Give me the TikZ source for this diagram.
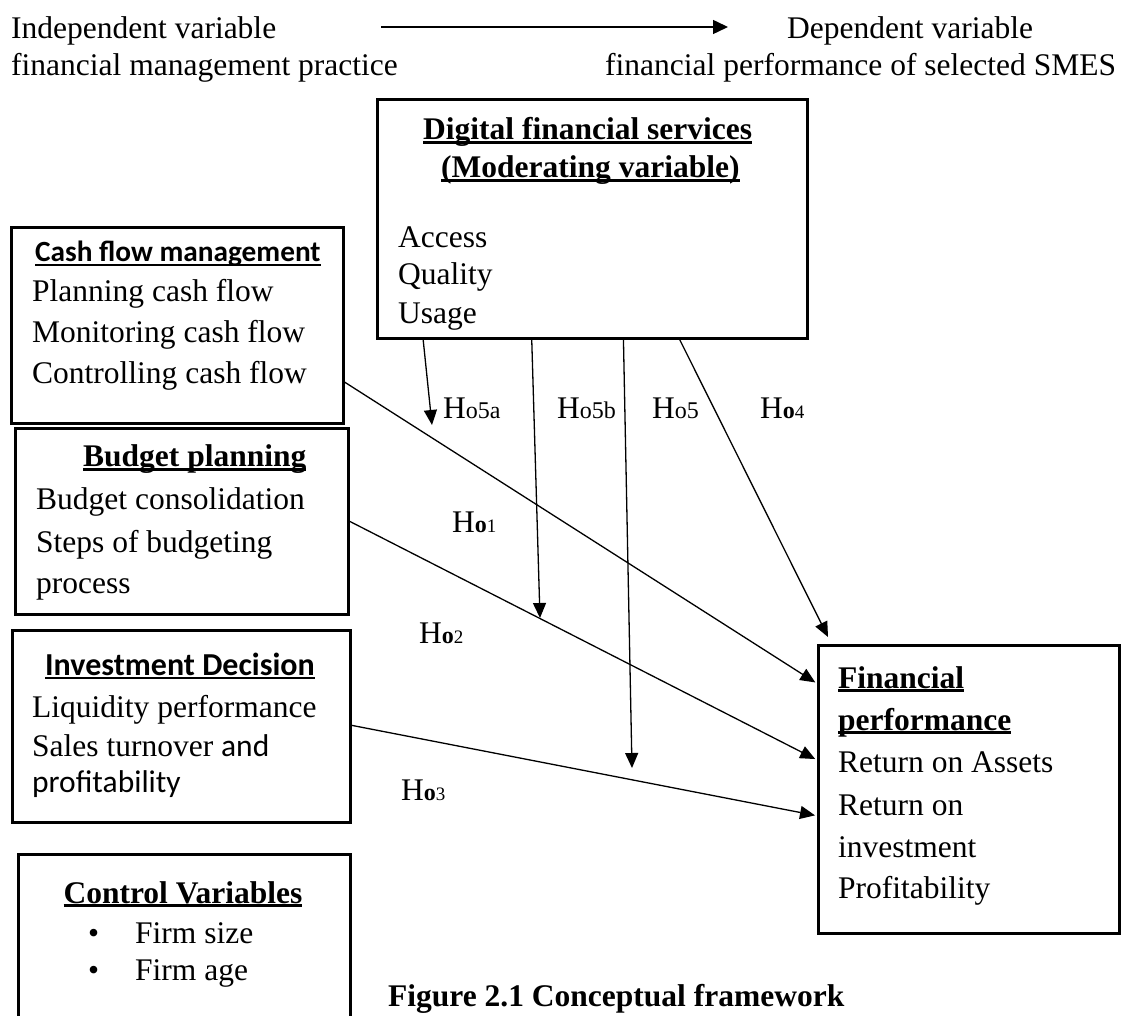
\documentclass[tikz,border=0pt]{standalone}
\usepackage{fontspec}
\setmainfont{Liberation Serif}
\newfontfamily\calib{Carlito}
\usetikzlibrary{arrows.meta,calc}
\newcommand\myul[1]{\setbox0=\hbox{#1}\rlap{\rule[-4pt]{\wd0}{2.8pt}}\box0}
\newcommand\myulc[1]{\setbox0=\hbox{#1}\rlap{\rule[-4pt]{\wd0}{2pt}}\box0}
\newcommand\hsmall[1]{{\fontsize{24}{24}\selectfont #1}}
\newcommand\hbo[2]{{\fontsize{24}{24}\selectfont\bfseries #1}{\fontsize{19}{19}\selectfont #2}}
\begin{document}
\begin{tikzpicture}[x=1pt,y=-1pt,
  box/.style={draw, line width=2.6pt, inner sep=0pt, anchor=north west},
  txt/.style={anchor=base west, inner sep=0pt, font=\fontsize{31.5}{38}\selectfont},
  conn/.style={line width=1.3pt, -{Triangle[length=15pt,width=13pt]}},
  captxt/.style={anchor=base west, inner sep=0pt, font=\fontsize{31.5}{38}\selectfont\bfseries}]
\clip (0,0) rectangle (1128,1016);
\fill[white] (0,0) rectangle (1128,1016);

% header
\node[txt] (iv1) at (11,39) {Independent variable};
\node[txt] (iv2) at (11,76) {financial management practice};
\node[txt] (dv1) at (787,39) {Dependent variable};
\node[txt] (dv2) at (605,76) {financial performance of selected SMES};
\coordinate (ha) at (381,27);
\coordinate (hb) at (728,27);
\draw[line width=1.5pt, -{Triangle[length=15pt,width=14pt]}] (ha) -- (hb);

% boxes
\node[box, minimum width=430pt, minimum height=239pt] (dfs) at (376,98) {};
\node[box, minimum width=332pt, minimum height=196pt] (cfm) at (10,226) {};
\node[box, minimum width=333pt, minimum height=186pt] (bp) at (14,427) {};
\node[box, minimum width=338pt, minimum height=192pt] (id) at (11,629) {};
\node[box, minimum width=332pt, minimum height=220pt] (cv) at (17,853) {};
\node[box, minimum width=301pt, minimum height=288pt] (fp) at (817,644) {};

% digital financial services
\node[txt] (dfs1) at (423,140) {\bfseries\myul{Digital financial services}};
\node[txt] (dfs2) at (441,178) {\bfseries\myul{(Moderating variable)}};
\node[txt] (dfs3) at (398,248) {Access};
\node[txt] (dfs4) at (398,285) {Quality};
\node[txt] (dfs5) at (398,324) {Usage};

% cash flow
\node[txt, font=\fontsize{29.3}{36}\selectfont] (cf1) at (35,262) {\calib\bfseries\myulc{Cash flow management}};
\node[txt] (cf2) at (32,302) {Planning cash flow};
\node[txt] (cf3) at (32,343) {Monitoring cash flow};
\node[txt] (cf4) at (32,384) {Controlling cash flow};

% budget
\node[txt] (bp1) at (83,467) {\bfseries\myul{Budget planning}};
\node[txt] (bp2) at (36,509) {Budget consolidation};
\node[txt] (bp3) at (36,552) {Steps of budgeting};
\node[txt] (bp4) at (36,593) {process};

% investment
\node[txt, font=\fontsize{32}{38}\selectfont] (id1) at (45,675) {\calib\bfseries\myulc{Investment Decision}};
\node[txt] (id2) at (32,717) {Liquidity performance};
\node[txt] (id3) at (32,756) {Sales turnover {\calib and}};
\node[txt] (id4) at (32,792) {\calib profitability};

% control
\node[txt, anchor=base] (cv1) at (183,903) {\bfseries\myul{Control Variables}};
\node[txt] (cvb1) at (88,943) {•};
\node[txt] (cv2) at (135,943) {Firm size};
\node[txt] (cvb2) at (88,980) {•};
\node[txt] (cv3) at (135,980) {Firm age};

% financial performance
\node[txt] (fp1) at (838,688) {\bfseries\myul{Financial}};
\node[txt] (fp2) at (838,730) {\bfseries\myul{performance}};
\node[txt] (fp3) at (838,772) {Return on Assets};
\node[txt] (fp4) at (838,815) {Return on};
\node[txt] (fp5) at (838,857) {investment};
\node[txt] (fp6) at (838,898) {Profitability};

% hypothesis labels
\node[txt] (h5a) at (443,419) {H\hsmall{o5a}};
\node[txt] (h5b) at (557,419) {H\hsmall{o5b}};
\node[txt] (h5) at (652,419) {H\hsmall{o5}};
\node[txt] (h4) at (760,419) {H\hbo{o}{4}};
\node[txt] (h1) at (452,532) {H\hbo{o}{1}};
\node[txt] (h2) at (419,643) {H\hbo{o}{2}};
\node[txt] (h3) at (401,800) {H\hbo{o}{3}};

% caption
\node[captxt] (capt) at (388,1006) {Figure 2.1 Conceptual framework};

% moderating arrows
\coordinate (t5a) at (432,425);
\coordinate (t5b) at (540,618);
\coordinate (t5) at (632,768);
\coordinate (t4) at (828,637);
\draw[conn] ($(dfs.south west)!0.109!(dfs.south east)$) -- (t5a);
\draw[conn] ($(dfs.south west)!0.360!(dfs.south east)$) -- (t5b);
\draw[conn] ($(dfs.south west)!0.572!(dfs.south east)$) -- (t5);
\draw[conn] ($(dfs.south west)!0.702!(dfs.south east)$) -- (t4);

% main arrows
\draw[conn, shorten >=2pt] ($(cfm.north east)!0.786!(cfm.south east)$) -- ($(fp.north west)!0.136!(fp.south west)$);
\draw[conn, shorten >=2pt] ($(bp.north east)!0.5!(bp.south east)$) -- ($(fp.north west)!0.399!(fp.south west)$);
\draw[conn, shorten >=2pt] ($(id.north east)!0.495!(id.south east)$) -- ($(fp.north west)!0.591!(fp.south west)$);
\end{tikzpicture}
\end{document}
